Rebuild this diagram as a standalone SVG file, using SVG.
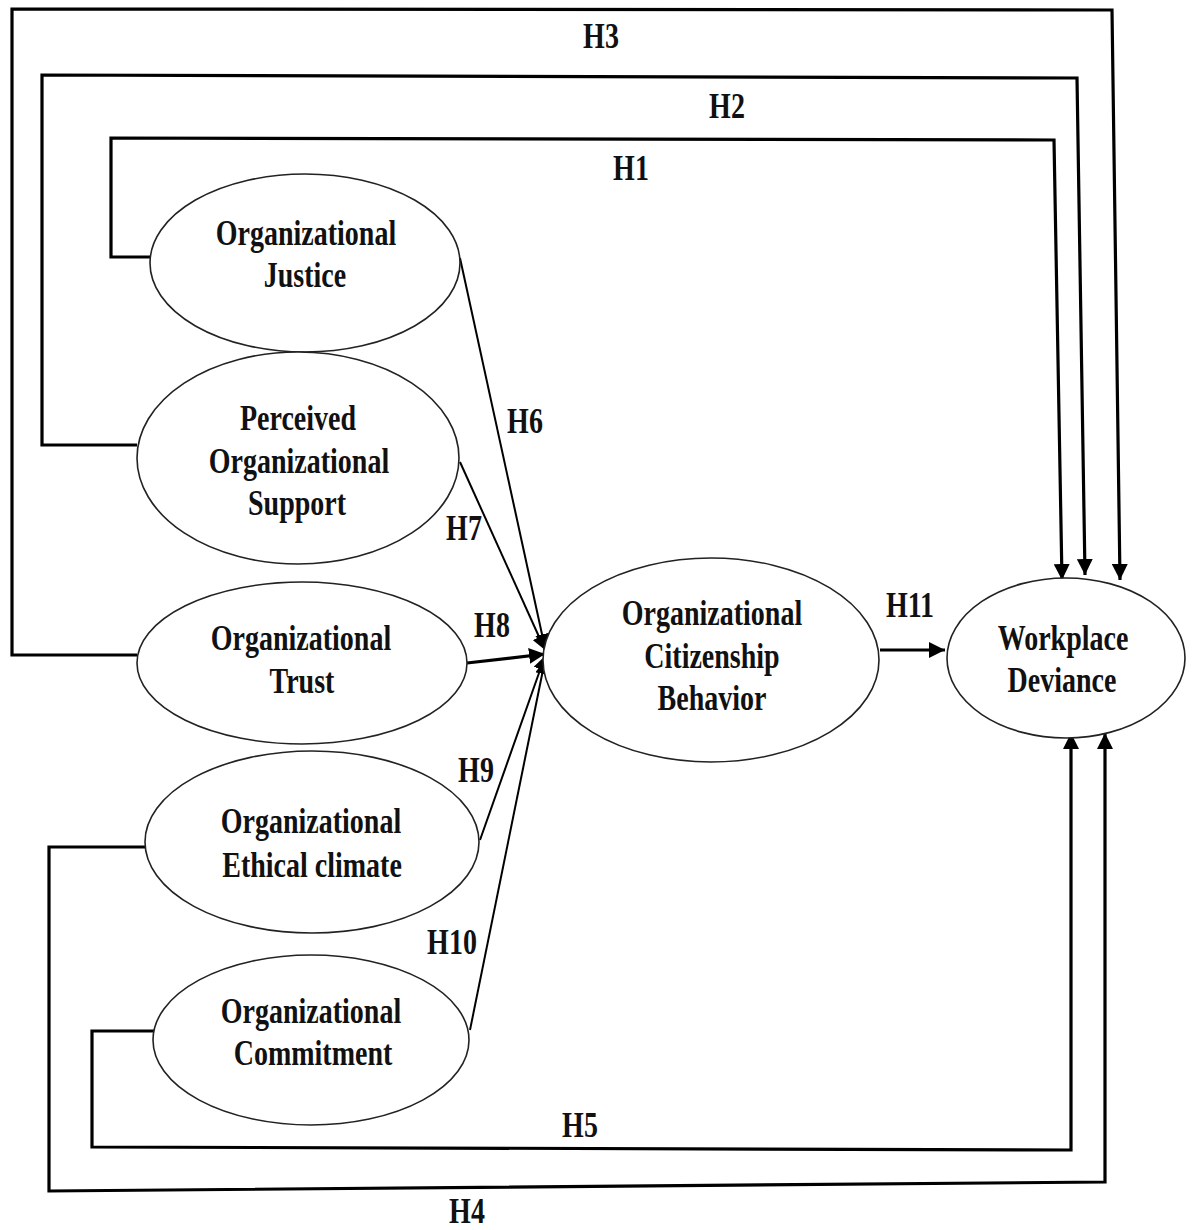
<svg xmlns="http://www.w3.org/2000/svg" width="1192" height="1230" viewBox="0 0 1192 1230">
<defs>
<marker id="ah" viewBox="0 0 10 10" refX="10" refY="5" markerWidth="5" markerHeight="5" orient="auto" markerUnits="strokeWidth">
<path d="M0,0 L10,5 L0,10 z" fill="#000"/>
</marker>
<marker id="ah2" viewBox="0 0 10 10" refX="10" refY="5" markerWidth="7" markerHeight="7" orient="auto" markerUnits="strokeWidth">
<path d="M0,0 L10,5 L0,10 z" fill="#000"/>
</marker>
</defs>
<style>
.node ellipse{fill:#fff;stroke:#222;stroke-width:1.6}
.t{font-family:"Liberation Serif","Times New Roman",serif;font-weight:bold;font-size:28px;fill:#111;text-anchor:middle}
.c{fill:none;stroke:#000;stroke-width:3.2}
.d{fill:none;stroke:#000;stroke-width:2}
</style>
<rect width="1192" height="1230" fill="#fff"/>
<g id="connectors">
<path class="c" d="M137,655 L12,655 L12,9 L1112,10 L1120,580" marker-end="url(#ah)"/>
<path class="c" d="M137,445 L42,445 L42,75 L1077,78 L1085,575" marker-end="url(#ah)"/>
<path class="c" d="M150,257 L111,257 L111,138 L1054,140 L1062,580" marker-end="url(#ah)"/>
<path class="c" d="M145,847 L49,847 L49,1191 L1105,1182 L1105,733" marker-end="url(#ah)"/>
<path class="c" d="M155,1031 L92,1031 L92,1147 L1071,1150 L1071,733" marker-end="url(#ah)"/>
<path class="d" d="M460,258 L545,648" marker-end="url(#ah2)"/>
<path class="d" d="M460,462 L545,650" marker-end="url(#ah2)"/>
<path class="c" d="M467,663 L545,654" marker-end="url(#ah)"/>
<path class="d" d="M480,840 L545,656" marker-end="url(#ah2)"/>
<path class="d" d="M470,1030 L545,660" marker-end="url(#ah2)"/>
<path class="c" d="M880,650 L945,650" marker-end="url(#ah)"/>
<g class="labels">
<text class="t" transform="translate(601 48) scale(1 1.3)">H3</text>
<text class="t" transform="translate(727 118) scale(1 1.3)">H2</text>
<text class="t" transform="translate(631 180) scale(1 1.3)">H1</text>
<text class="t" transform="translate(525 433) scale(1 1.3)">H6</text>
<text class="t" transform="translate(464 540) scale(1 1.3)">H7</text>
<text class="t" transform="translate(492 637) scale(1 1.3)">H8</text>
<text class="t" transform="translate(476 782) scale(1 1.3)">H9</text>
<text class="t" transform="translate(452 954) scale(1 1.3)">H10</text>
<text class="t" transform="translate(910 617) scale(1 1.3)">H11</text>
<text class="t" transform="translate(580 1137) scale(1 1.3)">H5</text>
<text class="t" transform="translate(467 1223) scale(1 1.3)">H4</text>
</g>
</g>
<g id="oj" class="node">
<ellipse cx="305" cy="263" rx="155" ry="89"/>
<text class="t" transform="translate(306 245) scale(1 1.3)">Organizational</text>
<text class="t" transform="translate(305 287) scale(1 1.3)">Justice</text>
</g>
<g id="pos" class="node">
<ellipse cx="298" cy="458" rx="161" ry="106"/>
<text class="t" transform="translate(298 430) scale(1 1.3)">Perceived</text>
<text class="t" transform="translate(299 473) scale(1 1.3)">Organizational</text>
<text class="t" transform="translate(297 515) scale(1 1.3)">Support</text>
</g>
<g id="ot" class="node">
<ellipse cx="302" cy="663" rx="165" ry="81"/>
<text class="t" transform="translate(301 650) scale(1 1.3)">Organizational</text>
<text class="t" transform="translate(302 693) scale(1 1.3)">Trust</text>
</g>
<g id="oec" class="node">
<ellipse cx="312" cy="842" rx="167" ry="91"/>
<text class="t" transform="translate(311 833) scale(1 1.3)">Organizational</text>
<text class="t" transform="translate(312 877) scale(1 1.3)">Ethical climate</text>
</g>
<g id="oc" class="node">
<ellipse cx="311" cy="1040" rx="158" ry="85"/>
<text class="t" transform="translate(311 1023) scale(1 1.3)">Organizational</text>
<text class="t" transform="translate(313 1065) scale(1 1.3)">Commitment</text>
</g>
<g id="ocb" class="node">
<ellipse cx="711" cy="660" rx="168" ry="102"/>
<text class="t" transform="translate(712 625) scale(1 1.3)">Organizational</text>
<text class="t" transform="translate(712 668) scale(1 1.3)">Citizenship</text>
<text class="t" transform="translate(712 710) scale(1 1.3)">Behavior</text>
</g>
<g id="wd" class="node">
<ellipse cx="1066" cy="658" rx="119" ry="80"/>
<text class="t" transform="translate(1063 650) scale(1 1.3)">Workplace</text>
<text class="t" transform="translate(1062 692) scale(1 1.3)">Deviance</text>
</g>
</svg>
